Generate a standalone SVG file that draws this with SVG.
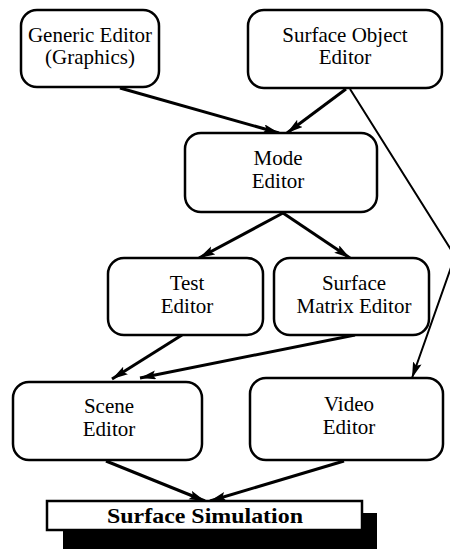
<svg xmlns="http://www.w3.org/2000/svg" width="450" height="549" viewBox="0 0 450 549">
<style>
.box{fill:#fff;stroke:#000;stroke-width:2.5}
.t{font-family:"Liberation Serif","Times New Roman",serif;font-size:21px;fill:#000;text-anchor:middle}
.tb{font-family:"Liberation Serif","Times New Roman",serif;font-size:22px;font-weight:bold;fill:#000;text-anchor:middle}
.e{fill:none;stroke:#000;stroke-width:3;marker-end:url(#ah)}
.thin{fill:none;stroke:#000;stroke-width:2;marker-end:url(#ah)}
</style>
<defs>
<marker id="ah" markerUnits="userSpaceOnUse" markerWidth="18" markerHeight="10" refX="16" refY="4.5" orient="auto">
<path d="M0,0 L16,4.5 L0,9 L3,4.5 z" fill="#000"/>
</marker>
</defs>
<rect width="450" height="549" fill="#fff"/>
<g id="connectors">
<line class="e" x1="120" y1="88" x2="279" y2="133"/>
<line class="e" x1="346" y1="89" x2="287" y2="133"/>
<polyline class="thin" points="350,89 455,256 412,378"/>
<line class="e" x1="283" y1="213" x2="199" y2="258"/>
<line class="e" x1="283" y1="213" x2="350" y2="258"/>
<line class="e" x1="182" y1="335" x2="112" y2="379"/>
<line class="e" x1="355" y1="335" x2="140" y2="378"/>
<line class="e" x1="106" y1="461" x2="205" y2="501"/>
<line class="e" x1="344" y1="461" x2="210" y2="501"/>
</g>
<g id="generic">
<rect class="box" x="21" y="10" width="138" height="77" rx="16"/>
<text class="t" x="90" y="42">Generic Editor</text>
<text class="t" x="90" y="64">(Graphics)</text>
</g>
<g id="surfaceobject">
<rect class="box" x="248" y="10" width="194" height="78" rx="16"/>
<text class="t" x="345" y="42">Surface Object</text>
<text class="t" x="345" y="64">Editor</text>
</g>
<g id="mode">
<rect class="box" x="185" y="133" width="192" height="79" rx="16"/>
<text class="t" x="278" y="165">Mode</text>
<text class="t" x="278" y="188">Editor</text>
</g>
<g id="test">
<rect class="box" x="108" y="258" width="155" height="77" rx="16"/>
<text class="t" x="187" y="290">Test</text>
<text class="t" x="187" y="313">Editor</text>
</g>
<g id="matrix">
<rect class="box" x="274" y="258" width="155" height="77" rx="16"/>
<text class="t" x="354" y="290">Surface</text>
<text class="t" x="354" y="313">Matrix Editor</text>
</g>
<g id="scene">
<rect class="box" x="13" y="382" width="189" height="78" rx="16"/>
<text class="t" x="109" y="413">Scene</text>
<text class="t" x="109" y="436">Editor</text>
</g>
<g id="video">
<rect class="box" x="250" y="378" width="193" height="82" rx="16"/>
<text class="t" x="349" y="411">Video</text>
<text class="t" x="349" y="434">Editor</text>
</g>
<g id="simulation">
<rect x="63" y="513" width="314" height="36" fill="#000"/>
<rect class="box" x="47" y="501" width="315" height="29" stroke-width="2"/>
<text class="tb" x="205" y="523" textLength="196" lengthAdjust="spacingAndGlyphs">Surface Simulation</text>
</g>
</svg>
